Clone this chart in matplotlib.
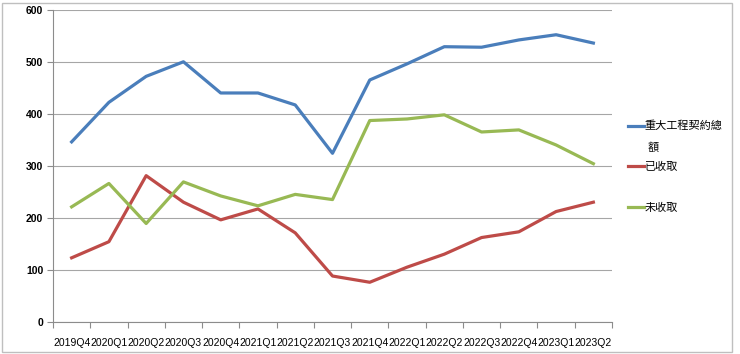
import matplotlib
matplotlib.use("Agg")
import matplotlib.pyplot as plt
from matplotlib.patches import Rectangle

quarters = ["2019Q4", "2020Q1", "2020Q2", "2020Q3", "2020Q4", "2021Q1", "2021Q2",
            "2021Q3", "2021Q4", "2022Q1", "2022Q2", "2022Q3", "2022Q4", "2023Q1", "2023Q2"]
total = [347, 423, 473, 501, 441, 441, 418, 325, 466, 497, 530, 529, 543, 553, 537]
received = [124, 155, 282, 231, 197, 218, 172, 89, 77, 106, 131, 163, 174, 213, 231]
unreceived = [222, 267, 190, 270, 243, 224, 246, 236, 388, 391, 399, 366, 370, 341, 305]
labels = ["重大工程契約總", "已收取", "未收取"]
colors = ["#4A7EBB", "#BE4B48", "#98B954"]

plt.rcParams['font.family'] = ['Liberation Sans', 'Noto Sans CJK TC', 'DejaVu Sans']

W, H = 740, 354
fig = plt.figure(figsize=(W / 100, H / 100), dpi=100)
fig.patch.set_facecolor("white")
fig.add_artist(Rectangle((2 / W, 1 - 352 / H), 730 / W, 349 / H, transform=fig.transFigure,
                         fill=False, edgecolor="#BFBFBF", linewidth=1.0))

ax = fig.add_axes([53 / W, 1 - 322.3 / H, (612 - 53) / W, (322.3 - 10.3) / H])
x = list(range(len(quarters)))
for vals, lab, c in zip([total, received, unreceived], labels, colors):
    ax.plot(x, vals, color=c, linewidth=2.3, label=lab, solid_joinstyle="round")

ax.set_xlim(-0.5, len(quarters) - 0.5)
ax.set_ylim(0, 600)
ax.set_yticks(range(0, 601, 100))
ax.set_yticklabels([str(v) for v in range(0, 601, 100)], fontsize=7.5, fontweight="bold")
ax.set_xticks(x)
ax.set_xticklabels(quarters, fontsize=7.5)
ax.tick_params(axis="x", length=0, pad=11)
ax.set_xticks([i - 0.5 for i in range(len(quarters) + 1)], minor=True)
ax.tick_params(axis="x", which="minor", length=4, color="#8C8C8C", width=0.8)
ax.tick_params(axis="y", length=4, color="#8C8C8C", width=0.8, pad=3)
ax.grid(axis="y", color="#A6A6A6", linewidth=0.8)
ax.set_axisbelow(True)
for s in ["top", "right"]:
    ax.spines[s].set_visible(False)
for s in ["left", "bottom"]:
    ax.spines[s].set_color("#8C8C8C")
    ax.spines[s].set_linewidth(0.8)

leg = ax.legend(loc="upper left", bbox_to_anchor=(628 / W, 1 - 121 / H),
                bbox_transform=fig.transFigure, frameon=False,
                prop={"family": ['Noto Sans CJK TC', 'DejaVu Sans'], "size": 8},
                handlelength=1.4, handletextpad=0.1, labelspacing=2.75,
                borderaxespad=0, borderpad=0)
fig.text(648 / W, 1 - 148 / H, "額", family=['Noto Sans CJK TC', 'DejaVu Sans'],
         fontsize=8, va="center", ha="left")

fig.savefig("out.png", dpi=100)
